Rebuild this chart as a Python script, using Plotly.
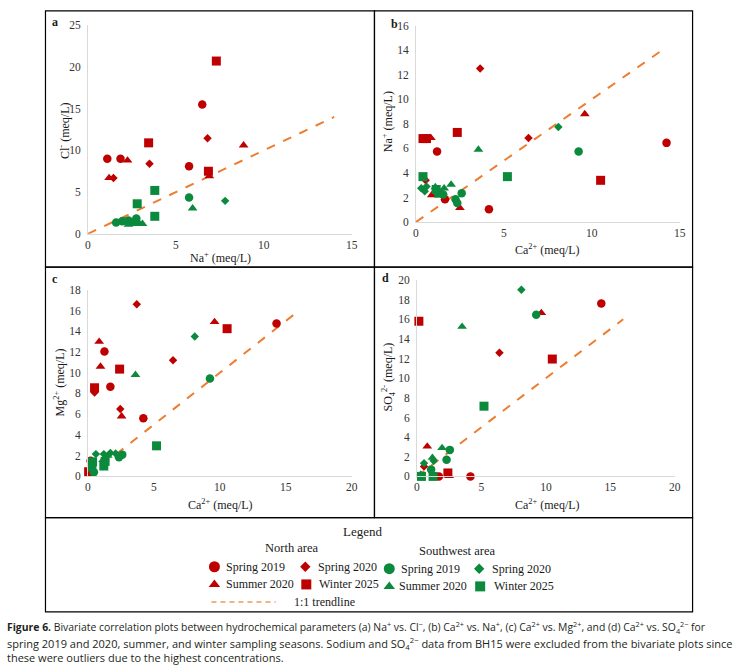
import plotly.graph_objects as go

W, H = 746, 668
RED = "#BE0000"
GREEN = "#0B8A3D"
ORANGE = "#ED7D31"
SERIF = "Liberation Serif"

# ---- panel a : Na+ (x) vs Cl- (y) ----
A_N_SPRING19 = [(1.1, 9.0), (1.85, 9.0), (5.75, 8.1), (6.5, 15.5)]
A_N_SPRING20 = [(1.45, 6.7), (3.5, 8.4), (6.8, 11.45)]
A_N_SUMMER20 = [(1.2, 6.7), (2.25, 8.8), (6.9, 6.9), (8.85, 10.6)]
A_N_WINTER25 = [(3.45, 10.9), (6.85, 7.5), (7.3, 20.7)]
A_S_SPRING19 = [(1.6, 1.35), (1.95, 1.5), (2.3, 1.6), (2.75, 1.85), (5.75, 4.35)]
A_S_SPRING20 = [(2.1, 1.55), (2.55, 1.45), (7.8, 3.95)]
A_S_SUMMER20 = [(2.3, 1.1), (2.6, 1.2), (2.9, 1.3), (3.1, 1.2), (5.95, 3.05)]
A_S_WINTER25 = [(2.8, 3.6), (3.8, 5.2), (3.8, 2.1)]

# ---- panel b : Ca2+ (x) vs Na+ (y) ----
B_N_SPRING19 = [(1.2, 5.75), (1.65, 1.85), (4.15, 1.05), (14.25, 6.45)]
B_N_SPRING20 = [(0.55, 3.4), (3.65, 12.5), (6.4, 6.85)]
B_N_SUMMER20 = [(0.85, 6.85), (0.9, 2.2), (2.5, 1.15), (9.6, 8.8)]
B_N_WINTER25 = [(0.4, 6.8), (0.6, 6.8), (2.35, 7.3), (10.5, 3.4)]
B_S_SPRING19 = [(1.55, 2.25), (2.25, 1.85), (2.35, 1.55), (2.6, 2.35), (9.25, 5.75)]
B_S_SPRING20 = [(0.3, 2.75), (0.5, 2.5), (0.6, 2.9), (8.1, 7.75)]
B_S_SUMMER20 = [(1.1, 2.85), (1.6, 2.75), (2.0, 3.05), (3.55, 5.9)]
B_S_WINTER25 = [(0.4, 3.7), (1.15, 2.65), (1.3, 2.35), (5.2, 3.7)]

# ---- panel c : Ca2+ (x) vs Mg2+ (y) ----
C_N_SPRING19 = [(0.2, 1.5), (1.25, 12.05), (1.7, 8.65), (4.2, 5.6), (14.3, 14.75)]
C_N_SPRING20 = [(0.5, 8.1), (2.45, 6.5), (3.7, 16.6), (6.45, 11.2)]
C_N_SUMMER20 = [(0.85, 13.0), (0.95, 10.6), (2.55, 5.8), (9.6, 14.9)]
C_N_WINTER25 = [(0.05, 0.45), (0.5, 8.55), (2.4, 10.35), (10.55, 14.25)]
C_S_SPRING19 = [(0.45, 0.4), (2.35, 1.85), (2.6, 2.1), (9.25, 9.45)]
C_S_SPRING20 = [(0.6, 2.15), (1.2, 2.15), (1.7, 2.25), (2.1, 2.2), (8.1, 13.5)]
C_S_SUMMER20 = [(1.15, 1.6), (1.5, 2.0), (3.6, 9.8)]
C_S_WINTER25 = [(0.35, 1.4), (0.3, 0.9), (1.2, 1.0), (1.3, 1.45), (5.2, 2.95)]

# ---- panel d : Ca2+ (x) vs SO4 2- (y) ----
D_N_SPRING19 = [(1.7, 0.0), (4.15, 0.0), (14.3, 17.6)]
D_N_SPRING20 = [(0.55, 1.0), (6.4, 12.6)]
D_N_SUMMER20 = [(0.8, 3.05), (2.5, 0.05), (9.65, 16.65)]
D_N_WINTER25 = [(0.15, 15.8), (2.4, 0.35), (10.5, 11.95)]
D_S_SPRING19 = [(0.3, 0.05), (1.1, 0.7), (2.3, 1.7), (2.55, 2.7), (9.25, 16.45)]
D_S_SPRING20 = [(0.55, 1.35), (1.3, 1.6), (8.1, 19.0)]
D_S_SUMMER20 = [(0.3, 0.2), (1.2, 1.9), (1.95, 2.9), (3.5, 15.25)]
D_S_WINTER25 = [(0.35, 0.0), (1.25, 0.0), (5.2, 7.15)]

TREND_AB = [0, 14]
TREND_CD = [0, 16]

SEASONS = ["Spring 2019", "Spring 2020", "Summer 2020", "Winter 2025"]
SYMBOLS = {"Spring 2019": ("circle", 8.5), "Spring 2020": ("diamond", 6.5),
           "Summer 2020": ("triangle-up", 8.5), "Winter 2025": ("square", 9)}


def px(x):
    return x / W


def py(y):
    return 1 - y / H


# panel: axis suffix, data lists (north then south), trend, ranges, y step, pixel box
panels = [
    ("", [A_N_SPRING19, A_N_SPRING20, A_N_SUMMER20, A_N_WINTER25,
          A_S_SPRING19, A_S_SPRING20, A_S_SUMMER20, A_S_WINTER25],
     TREND_AB, [0, 15], [0, 25], 5, (86, 353), (19.5, 232)),
    ("2", [B_N_SPRING19, B_N_SPRING20, B_N_SUMMER20, B_N_WINTER25,
           B_S_SPRING19, B_S_SPRING20, B_S_SUMMER20, B_S_WINTER25],
     TREND_AB, [0, 15], [0, 16], 2, (418, 685), (20, 220)),
    ("3", [C_N_SPRING19, C_N_SPRING20, C_N_SUMMER20, C_N_WINTER25,
           C_S_SPRING19, C_S_SPRING20, C_S_SUMMER20, C_S_WINTER25],
     TREND_CD, [0, 20], [0, 18], 2, (86, 353), (289, 479)),
    ("4", [D_N_SPRING19, D_N_SPRING20, D_N_SUMMER20, D_N_WINTER25,
           D_S_SPRING19, D_S_SPRING20, D_S_SUMMER20, D_S_WINTER25],
     TREND_CD, [0, 20], [0, 20], 2, (419, 680), (279, 479)),
]

fig = go.Figure()
layout = {}

for suffix, series, trend, xr, yr, ydt, (x0, x1), (y0, y1) in panels:
    xa, ya = "x" + suffix, "y" + suffix
    fig.add_trace(go.Scatter(x=trend, y=trend, mode="lines", xaxis=xa, yaxis=ya,
                             line=dict(color=ORANGE, width=2, dash="dash"),
                             showlegend=False, hoverinfo="skip"))
    for i, pts in enumerate(series):
        season = SEASONS[i % 4]
        sym, size = SYMBOLS[season]
        color = RED if i < 4 else GREEN
        fig.add_trace(go.Scatter(
            x=[p[0] for p in pts], y=[p[1] for p in pts], mode="markers",
            xaxis=xa, yaxis=ya, cliponaxis=False, showlegend=False,
            marker=dict(symbol=sym, size=size, color=color, line=dict(width=0))))
    common = dict(showgrid=False, zeroline=False, showline=True, linecolor="#D9D9D9",
                  linewidth=1, ticks="", fixedrange=True,
                  tickfont=dict(family=SERIF, size=11.5, color="#333333"))
    layout["xaxis" + suffix] = dict(common, domain=[px(x0), px(x1)], range=xr, dtick=5,
                                    anchor=ya)
    layout["yaxis" + suffix] = dict(common, domain=[py(y1), py(y0)], range=yr, dtick=ydt,
                                    anchor=xa, ticklabelstandoff=4)

# overlay axis in pixel units for frames, labels and the legend
layout["xaxis5"] = dict(domain=[0, 1], range=[0, W], visible=False, fixedrange=True)
layout["yaxis5"] = dict(domain=[0, 1], range=[H, 0], visible=False, fixedrange=True,
                        anchor="x5")

shapes = []
for (sx0, sy0, sx1, sy1) in [(43, 5, 376, 266), (376, 5, 698, 266),
                             (43, 266, 376, 521), (376, 266, 698, 521),
                             (43, 521, 698, 617)]:
    shapes.append(dict(type="rect", xref="x5", yref="y5", x0=sx0, y0=sy0, x1=sx1, y1=sy1,
                       line=dict(color="black", width=1.2)))

ann = []


def text(x, y, s, size=12, anchor="center", angle=0, family=SERIF, color="#1a1a1a"):
    ann.append(dict(x=x, y=y, xref="x5", yref="y5", text=s, showarrow=False,
                    xanchor=anchor, yanchor="middle", textangle=angle,
                    font=dict(family=family, size=size, color=color)))


# panel letters
text(53, 16, "<b>a</b>", 12)
text(396, 18, "<b>b</b>", 12)
text(53, 278, "<b>c</b>", 12)
text(387, 277, "<b>d</b>", 12)

# axis titles
text(220, 256, "Na<sup>+</sup> (meq/L)")
text(62, 127, "Cl<sup>-</sup> (meq/L)", angle=-90)
text(551, 248, "Ca<sup>2+</sup> (meq/L)")
text(390, 118, "Na<sup>+</sup> (meq/L)", angle=-90)
text(220, 508, "Ca<sup>2+</sup> (meq/L)")
text(57, 383, "Mg<sup>2+</sup> (meq/L)", angle=-90)
text(551, 508, "Ca<sup>2+</sup> (meq/L)")
text(390, 378, "SO<sub>4</sub><sup>2-</sup> (meq/L)", angle=-90)

# legend
text(364, 535, "Legend", 13)
text(293, 552, "North area", 12.5)
text(460, 555, "Southwest area", 12.5)

legend_keys = [
    (214, 571, RED, "circle", 11, 224, "Spring 2019"),
    (306, 571, RED, "diamond", 8, 317, "Spring 2020"),
    (391, 573, GREEN, "circle", 11, 401, "Spring 2019"),
    (482, 573, GREEN, "diamond", 8, 493, "Spring 2020"),
    (214, 589, RED, "triangle-up", 10, 224, "Summer 2020"),
    (307, 589, RED, "square", 10, 318, "Winter 2025"),
    (391, 591, GREEN, "triangle-up", 10, 399, "Summer 2020"),
    (483, 591, GREEN, "square", 10, 495, "Winter 2025"),
]
for kx, ky, kc, ks, ksz, tx, label in legend_keys:
    fig.add_trace(go.Scatter(x=[kx], y=[ky], mode="markers", xaxis="x5", yaxis="y5",
                             showlegend=False, hoverinfo="skip", cliponaxis=False,
                             marker=dict(symbol=ks, size=ksz, color=kc, line=dict(width=0))))
    text(tx, ky, label, 12, anchor="left")

fig.add_trace(go.Scatter(x=[211, 276], y=[607, 607], mode="lines", xaxis="x5", yaxis="y5",
                         showlegend=False, hoverinfo="skip",
                         line=dict(color="#F4B183", width=2, dash="5px,4px")))
text(293, 607, "1:1 trendline", 12, anchor="left")

# caption
CAP = "Open Sans"
text(2, 633, "<b>Figure 6.</b> Bivariate correlation plots between hydrochemical parameters "
     "(a) Na<sup>+</sup> vs. Cl<sup>\u2212</sup>, (b) Ca<sup>2+</sup> vs. Na<sup>+</sup>, "
     "(c) Ca<sup>2+</sup> vs. Mg<sup>2+</sup>, and (d) Ca<sup>2+</sup> vs. "
     "SO<sub>4</sub><sup>2\u2212</sup> for", 10.4, anchor="left", family=CAP, color="#231F20")
text(2, 649, "spring 2019 and 2020, summer, and winter sampling seasons. Sodium and "
     "SO<sub>4</sub><sup>2\u2212</sup> data from BH15 were excluded from the bivariate plots since",
     11, anchor="left", family=CAP, color="#231F20")
text(2, 663, "these were outliers due to the highest concentrations.", 11, anchor="left",
     family=CAP, color="#231F20")

fig.update_layout(width=W, height=H, margin=dict(l=0, r=0, t=0, b=0),
                  paper_bgcolor="white", plot_bgcolor="rgba(0,0,0,0)",
                  shapes=shapes, annotations=ann, showlegend=False, **layout)

fig.write_html("out.html", config={"displayModeBar": False},
               post_script="document.body.style.margin='0';")
